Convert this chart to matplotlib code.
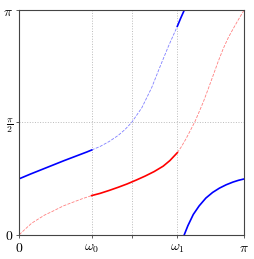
import matplotlib
matplotlib.use("Agg")
import matplotlib.pyplot as plt
import numpy as np

plt.rcParams['mathtext.fontset'] = 'cm'
plt.rcParams['font.family'] = 'serif'
plt.rcParams['font.serif'] = ['DejaVu Serif']

# band edges (in units of pi)
w0 = 0.322
w1 = 0.703

# blue curve (x and y in units of pi)
blue_pass_x = [0.0, 0.05, 0.10, 0.15, 0.20, 0.25, 0.30, 0.322]
blue_pass_y = [0.249, 0.270, 0.290, 0.310, 0.330, 0.349, 0.368, 0.377]
blue_dash_x = [0.322, 0.36, 0.40, 0.44, 0.47, 0.50, 0.545, 0.589, 0.626, 0.663, 0.703]
blue_dash_y = [0.377, 0.393, 0.415, 0.442, 0.468, 0.50, 0.565, 0.655, 0.748, 0.838, 0.928]
blue_top_x = [0.703, 0.718, 0.734]
blue_top_y = [0.928, 0.964, 1.0]
blue_wrap_x = [0.734, 0.75, 0.774, 0.80, 0.83, 0.86, 0.89, 0.92, 0.95, 0.975, 1.0]
blue_wrap_y = [0.0, 0.040, 0.090, 0.128, 0.163, 0.188, 0.207, 0.222, 0.234, 0.242, 0.248]

# red curve
red_lo_x = [0.0, 0.033, 0.055, 0.085, 0.114, 0.144, 0.174, 0.196, 0.24, 0.28, 0.322]
red_lo_y = [0.0, 0.031, 0.051, 0.070, 0.088, 0.102, 0.117, 0.128, 0.145, 0.160, 0.174]
red_mid_x = [0.322, 0.36, 0.40, 0.44, 0.48, 0.52, 0.56, 0.60, 0.64, 0.67, 0.703]
red_mid_y = [0.174, 0.184, 0.197, 0.211, 0.226, 0.243, 0.261, 0.281, 0.305, 0.330, 0.365]
red_hi_x = [0.703, 0.72, 0.74, 0.76, 0.782, 0.80, 0.819, 0.84, 0.863, 0.885, 0.908, 0.93, 0.952, 0.976, 1.0]
red_hi_y = [0.365, 0.390, 0.424, 0.462, 0.505, 0.547, 0.592, 0.648, 0.711, 0.772, 0.830, 0.878, 0.918, 0.960, 1.0]

pi = np.pi
fig = plt.figure(figsize=(2.54, 2.59), dpi=100)
ax = fig.add_axes([0.076, 0.094, 0.885, 0.867])

def P(v):
    return np.array(v) * pi

# dashed (stop band) parts
ax.plot(P(blue_dash_x), P(blue_dash_y), '--', color='#8080ff', lw=0.6)
ax.plot(P(red_lo_x), P(red_lo_y), '--', color='#ff8080', lw=0.6)
ax.plot(P(red_hi_x), P(red_hi_y), '--', color='#ff8080', lw=0.6)

# solid (pass band) parts
ax.plot(P(blue_pass_x), P(blue_pass_y), '-', color='#0000ff', lw=1.2)
ax.plot(P(blue_top_x), P(blue_top_y), '-', color='#0000ff', lw=1.2)
ax.plot(P(blue_wrap_x), P(blue_wrap_y), '-', color='#0000ff', lw=1.2)
ax.plot(P(red_mid_x), P(red_mid_y), '-', color='#ff0000', lw=1.2)

ax.set_xlim(0, pi)
ax.set_ylim(0, pi)
ax.set_xticks([0, w0 * pi, pi / 2, w1 * pi, pi])
ax.set_xticklabels(['$0$', r'$\omega_0$', '', r'$\omega_1$', r'$\pi$'])
ax.set_yticks([0, pi / 2, pi])
ax.set_yticklabels(['$0$', r'$\frac{\pi}{2}$', r'$\pi$'])
ax.tick_params(direction='out', length=2.5, width=0.6, labelsize=10, pad=2,
               color='#444444')
ax.grid(True, linestyle=':', color='#bbbbbb', lw=0.7)
for s in ax.spines.values():
    s.set_color('#444444')
    s.set_linewidth(0.8)

fig.savefig('out.png', dpi=100)
